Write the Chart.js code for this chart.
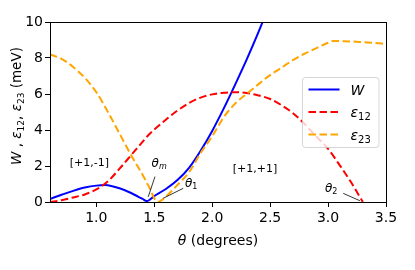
<!DOCTYPE html>
<html>
<head>
<meta charset="utf-8">
<script src="https://cdn.jsdelivr.net/npm/chart.js@4/dist/chart.umd.min.js"></script>
<style>
  body { margin: 0; background: #fff; }
  canvas { display: block; }
</style>
</head>
<body>
<canvas id="chart" width="415" height="270"></canvas>
<script>
// Données
const thetaW = [0.6, 0.7, 0.8, 0.9, 1.0, 1.075, 1.1, 1.2, 1.3, 1.36, 1.4, 1.434, 1.5, 1.6, 1.7, 1.8, 1.9, 2.0, 2.1, 2.2, 2.3, 2.4, 2.5];
const valuesW = [0.17, 0.4, 0.62, 0.8, 0.91, 0.94, 0.93, 0.76, 0.5, 0.3, 0.17, 0.05, 0.33, 0.72, 1.22, 1.9, 2.85, 3.95, 5.2, 6.55, 7.95, 9.45, 11.05];

const thetaE12 = [0.6, 0.7, 0.8, 0.9, 1.0, 1.1, 1.2, 1.3, 1.4, 1.45, 1.5, 1.6, 1.7, 1.8, 1.9, 2.0, 2.1, 2.2, 2.3, 2.4, 2.5, 2.6, 2.7, 2.8, 2.9, 3.0, 3.1, 3.2, 3.3];
const valuesE12 = [0.0, 0.1, 0.25, 0.42, 0.7, 1.15, 1.85, 2.6, 3.35, 3.72, 4.02, 4.57, 5.08, 5.5, 5.8, 5.98, 6.07, 6.1, 6.05, 5.92, 5.72, 5.37, 4.92, 4.32, 3.63, 2.95, 2.05, 1.08, 0.0];

const thetaE23 = [0.6, 0.7, 0.8, 0.9, 1.0, 1.1, 1.2, 1.3, 1.4, 1.45, 1.53, 1.6, 1.7, 1.8, 1.9, 2.0, 2.1, 2.2, 2.3, 2.4, 2.5, 2.6, 2.7, 2.8, 2.9, 3.0, 3.05, 3.1, 3.2, 3.3, 3.4, 3.5];
const valuesE23 = [8.2, 7.95, 7.5, 6.9, 6.1, 5.0, 3.8, 2.6, 1.5, 0.9, 0.0, 0.3, 0.95, 1.65, 2.72, 3.65, 4.72, 5.48, 6.02, 6.55, 7.05, 7.47, 7.9, 8.25, 8.55, 8.85, 8.95, 8.94, 8.92, 8.88, 8.84, 8.78];

const xTicks = [1.0, 1.5, 2.0, 2.5, 3.0, 3.5];
const yTicks = [0, 2, 4, 6, 8, 10];

// Annotations (coordonnées en données)
const regionLabels = [
    { text: "[+1,-1]", x: 0.94, y: 2.16 },
    { text: "[+1,+1]", x: 2.37, y: 1.83 }
];
const angleLabels = [
    { sub: "m", x: 1.477, y: 1.97, from: [1.506, 1.41], to: [1.448, 0.29] },
    { sub: "1", x: 1.765, y: 0.86, from: [1.750, 0.76], to: [1.578, 0.21] },
    { sub: "2", x: 2.973, y: 0.58, from: [3.131, 0.48], to: [3.275, 0.07] }
];

const FONT = "'DejaVu Sans', sans-serif";

function points(xs, ys) {
    return xs.map((x, i) => ({ x: x, y: ys[i] }));
}

// Texte riche : [texte, style] avec 'n' normal, 'i' italique, 's' indice, 'si' indice italique
function partFont(style, size) {
    if (style === 'i') return "italic " + size + "px " + FONT;
    if (style === 's') return Math.round(size * 0.7) + "px " + FONT;
    if (style === 'si') return "italic " + Math.round(size * 0.7) + "px " + FONT;
    return size + "px " + FONT;
}
function richWidth(ctx, parts, size) {
    let w = 0;
    parts.forEach(p => { ctx.font = partFont(p[1], size); w += ctx.measureText(p[0]).width; });
    return w;
}
function drawRich(ctx, parts, x, y, size) {
    ctx.textBaseline = "alphabetic";
    ctx.textAlign = "left";
    parts.forEach(p => {
        ctx.font = partFont(p[1], size);
        const dy = (p[1] === 's' || p[1] === 'si') ? size * 0.22 : 0;
        ctx.fillText(p[0], x, y + dy);
        x += ctx.measureText(p[0]).width;
    });
}

const decorPlugin = {
    id: "decor",
    afterDatasetsDraw(chart) {
        const ctx = chart.ctx;
        const xs = chart.scales.x, ys = chart.scales.y;
        const area = chart.chartArea;
        ctx.save();
        ctx.fillStyle = "#000";
        ctx.strokeStyle = "#000";

        // étiquettes de régions
        ctx.font = "11px " + FONT;
        ctx.textAlign = "center";
        ctx.textBaseline = "middle";
        regionLabels.forEach(r => ctx.fillText(r.text, xs.getPixelForValue(r.x), ys.getPixelForValue(r.y)));

        // angles avec traits
        angleLabels.forEach(a => {
            drawRich(ctx, [["θ", 'i'], [a.sub, a.sub === "m" ? 'si' : 's']], xs.getPixelForValue(a.x), ys.getPixelForValue(a.y), 12);
            ctx.lineWidth = 0.8;
            ctx.beginPath();
            ctx.moveTo(xs.getPixelForValue(a.from[0]), ys.getPixelForValue(a.from[1]));
            ctx.lineTo(xs.getPixelForValue(a.to[0]), ys.getPixelForValue(a.to[1]));
            ctx.stroke();
        });

        // légende
        const lx = 302.5, ly = 77.5, lw = 76.5, lh = 70;
        ctx.globalAlpha = 0.8;
        ctx.fillStyle = "#fff";
        ctx.strokeStyle = "#cccccc";
        ctx.lineWidth = 1;
        ctx.beginPath();
        ctx.roundRect(lx, ly, lw, lh, 3);
        ctx.fill();
        ctx.stroke();
        ctx.globalAlpha = 1;
        const entries = [
            [["W", 'i']],
            [["ε", 'i'], ["12", 's']],
            [["ε", 'i'], ["23", 's']]
        ];
        chart.data.datasets.forEach((ds, i) => {
            const yy = ly + 12 + i * 22.5;
            ctx.strokeStyle = ds.borderColor;
            ctx.lineWidth = ds.borderWidth;
            ctx.setLineDash(ds.borderDash || []);
            ctx.beginPath();
            ctx.moveTo(lx + 6, yy);
            ctx.lineTo(lx + 37, yy);
            ctx.stroke();
            ctx.setLineDash([]);
            ctx.fillStyle = "#000";
            drawRich(ctx, entries[i], lx + 48, yy + 5, 14);
        });

        // cadre
        ctx.strokeStyle = "#000";
        ctx.lineWidth = 1;
        ctx.strokeRect(area.left + 0.5, area.top + 0.5, area.right - area.left, area.bottom - area.top);

        // titres des axes
        ctx.fillStyle = "#000";
        const xt = [["θ", 'i'], [" (degrees)", 'n']];
        const xw = richWidth(ctx, xt, 14);
        drawRich(ctx, xt, (area.left + area.right) / 2 - xw / 2, 245, 14);

        const yt = [["W", 'i'], [" , ", 'n'], ["ε", 'i'], ["12", 's'], [", ", 'n'], ["ε", 'i'], ["23", 's'], [" (meV)", 'n']];
        const yw = richWidth(ctx, yt, 13.5);
        ctx.translate(21, 106);
        ctx.rotate(-Math.PI / 2);
        drawRich(ctx, yt, -yw / 2, 0, 13.5);
        ctx.restore();
    }
};

const ctx = document.getElementById("chart").getContext("2d");

const chart = new Chart(ctx, {
    type: "line",
    data: {
        datasets: [
            { label: "W", data: points(thetaW, valuesW), borderColor: "#0000ff", borderWidth: 2, order: 3 },
            { label: "ε12", data: points(thetaE12, valuesE12), borderColor: "#ff0000", borderWidth: 2, borderDash: [7.5, 3.5], order: 2 },
            { label: "ε23", data: points(thetaE23, valuesE23), borderColor: "#ffa500", borderWidth: 2, borderDash: [7.5, 3.5], order: 1 }
        ]
    },
    options: {
        responsive: false,
        animation: false,
        events: [],
        layout: { padding: { top: 22, right: 29, left: 0, bottom: 0 } },
        elements: {
            point: { radius: 0 },
            line: { cubicInterpolationMode: "monotone", fill: false }
        },
        plugins: {
            legend: { display: false },
            tooltip: { enabled: false }
        },
        scales: {
            x: {
                type: "linear",
                min: 0.6,
                max: 3.5,
                afterBuildTicks: s => { s.ticks = xTicks.map(v => ({ value: v })); },
                afterFit: s => { s.height = 68; },
                ticks: {
                    callback: v => v.toFixed(1),
                    color: "#000",
                    font: { family: FONT, size: 14 },
                    padding: 3,
                    maxRotation: 0,
                    autoSkip: false
                },
                grid: { drawOnChartArea: false, tickLength: 5, color: "#000" },
                border: { display: false }
            },
            y: {
                min: 0,
                max: 10,
                afterBuildTicks: s => { s.ticks = yTicks.map(v => ({ value: v })); },
                afterFit: s => { s.width = 50; },
                ticks: {
                    color: "#000",
                    font: { family: FONT, size: 14 },
                    padding: 2
                },
                grid: { drawOnChartArea: false, tickLength: 5, color: "#000" },
                border: { display: false }
            }
        }
    },
    plugins: [decorPlugin]
});
</script>
</body>
</html>
